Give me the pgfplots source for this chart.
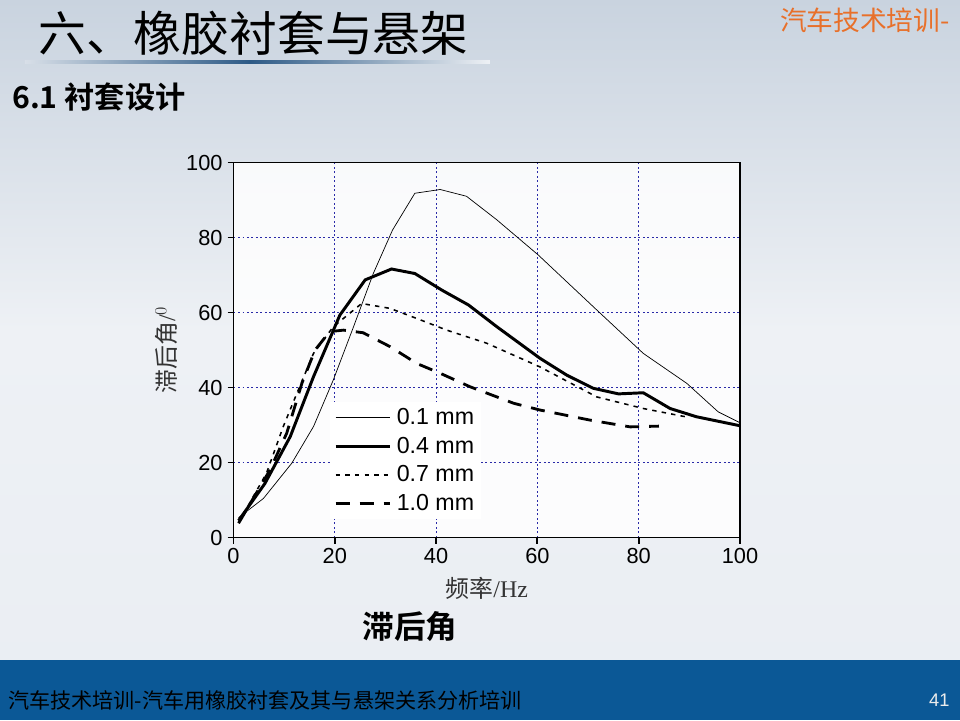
\documentclass[border=0pt]{standalone}
\usepackage{pgfplots}
\pgfplotsset{compat=1.18}
\usepackage{fontspec}
\setmainfont{Liberation Sans}
\newfontfamily\cjk{Noto Sans CJK SC}
\newfontfamily\cjkb{Noto Sans CJK SC Bold}
\newfontfamily\serif{Liberation Serif}
\definecolor{footblue}{HTML}{0B5896}
\definecolor{orangetxt}{HTML}{E8702A}
\definecolor{gridblue}{HTML}{2A2AA8}
\definecolor{bgtop}{HTML}{C9D3DF}
\definecolor{bgmid}{HTML}{EEF1F5}
\definecolor{linedark}{HTML}{2D5A86}
\begin{document}
\begin{tikzpicture}
\useasboundingbox (0,0) rectangle (24cm,18cm);
\begin{scope}[x=0.025cm,y=0.025cm]
% background
\shade[top color=bgtop,bottom color=bgmid!90!bgtop,middle color=bgmid] (0,60) rectangle (960,720);
\fill[footblue] (0,0) rectangle (960,60);
% title
\node[anchor=west,inner sep=0pt] at (38,687) {\cjk\fontsize{34}{40}\selectfont 六、橡胶衬套与悬架};
\shade[left color=bgtop!60!bgmid,right color=linedark] (25,656.5) rectangle (250,659.5);
\shade[left color=linedark,right color=bgmid] (250,656.5) rectangle (490,659.5);
\node[anchor=west,inner sep=0pt] at (12,623) {\cjkb\fontsize{21.5}{26}\selectfont 6.1 衬套设计};
\node[anchor=west,inner sep=0pt] at (780,700) {\cjk\fontsize{19}{22}\selectfont\color{orangetxt} 汽车技术培训-};
\node[anchor=west,inner sep=0pt] at (8,20) {\cjk\fontsize{15}{18}\selectfont 汽车技术培训-汽车用橡胶衬套及其与悬架关系分析培训};
\node[anchor=east,inner sep=0pt] at (950,20) {\fontsize{13}{15}\selectfont\color{white!85!gray} 41};
\node[inner sep=0pt] at (410,93) {\cjkb\fontsize{22.5}{26}\selectfont 滞后角};
\end{scope}
\begin{axis}[
  at={(5.8375cm,4.5625cm)}, anchor=south west,
  width=12.6625cm, height=9.375cm, scale only axis,
  xmin=0, xmax=100, ymin=0, ymax=100,
  xtick={0,20,40,60,80,100}, ytick={0,20,40,60,80,100},
  tick align=outside, major tick length=0.15cm,
  xtick pos=bottom, ytick pos=left,
  axis line style={line width=1.4pt},
  every tick/.style={black,line width=1.4pt},
  grid=major,
  major grid style={gridblue,line width=0.6pt,dash pattern=on 1.2pt off 2pt},
  axis background/.style={fill=white,fill opacity=0.85},
  /pgf/number format/assume math mode=true,
  tick label style={font=\fontsize{15.5}{18}\selectfont},
  xlabel={{\cjk 频率}{\serif /Hz}},
  xlabel style={font=\fontsize{17}{20}\selectfont\color{black!80}, at={(axis description cs:0.5,-0.135)}, anchor=center},
  ylabel={{\cjk 滞后角}{\serif /$^0$}},
  ylabel style={font=\fontsize{17}{20}\selectfont\color{black!80}, at={(axis description cs:-0.133,0.5)}, anchor=center},
  legend style={at={(axis description cs:0.19,0.361)}, anchor=north west, draw=none, fill=white, fill opacity=1,
    font=\fontsize{16.5}{19}\selectfont, inner xsep=3pt, inner ysep=2pt, row sep=3.5pt,
    /tikz/every odd column/.append style={column sep=2pt}},
  legend cell align=left,
  legend image code/.code={\draw[#1] (0cm,0cm) -- (1.35cm,0cm);},
]
\addplot[black,line width=0.5pt] coordinates {
(1,5.3) (5.9,10.4) (11.5,19.8) (15.8,29.6) (19.7,42) (23.7,56.2) (27.6,70.4) (31.4,82) (35.8,91.8) (40.8,92.8) (46,91) (52,84.7) (60.2,75.3) (71.7,60.7) (80.9,49.1) (89.5,41.1) (95.7,33.5) (100,30.6)};
\addlegendentry{0.1 mm}
\addplot[black,line width=2.1pt] coordinates {
(1,4.5) (6.2,14.4) (11.2,26.9) (15.8,42.9) (21,59.3) (26,68.7) (31.2,71.6) (35.8,70.4) (41.1,66) (46.4,62) (52,56.2) (60.5,47.8) (65.8,43.3) (71,39.8) (76,38.3) (80.9,38.6) (86.2,34.4) (91.4,32.2) (100,29.8)};
\addlegendentry{0.4 mm}
\addplot[black,line width=1.1pt,dash pattern=on 0.11cm off 0.13cm] coordinates {
(1,4) (6.5,17.1) (9.8,29.5) (12.5,38.4) (15.8,49.1) (19.7,56.2) (25.3,62.4) (30.9,61.1) (36.2,58.4) (42.1,55.3) (50,51.8) (60.5,45.5) (71.7,37.5) (80.9,34.4) (90,32)};
\addlegendentry{0.7 mm}
\addplot[black,line width=2pt,dash pattern=on 0.35cm off 0.25cm] coordinates {
(1,3.8) (7.2,18) (10.5,27.8) (13.5,41.1) (16.1,50) (19,54.9) (21.7,55.3) (25.6,54.6) (30.9,50.9) (36.2,46.4) (40.8,43.8) (46.7,40.2) (55.3,35.8) (60.5,34) (70.4,31.3) (78.3,29.5) (84,29.7)};
\addlegendentry{1.0 mm}
\end{axis}
\end{tikzpicture}
\end{document}
